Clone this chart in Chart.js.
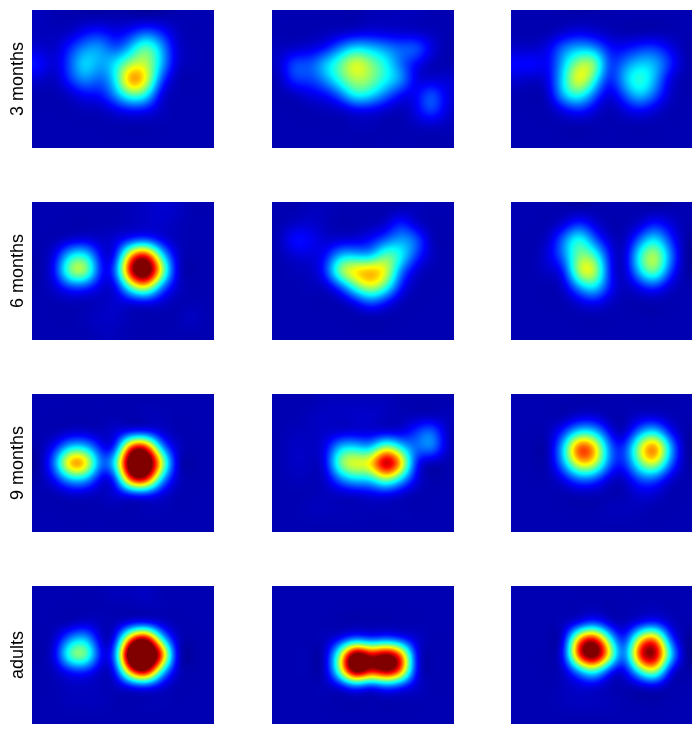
<!DOCTYPE html>
<html>
<head>
<meta charset="utf-8">
<script src="https://cdn.jsdelivr.net/npm/chart.js@4"></script>
<style>
  html, body { margin: 0; padding: 0; background: #fff; }
  #wrap { position: relative; width: 699px; height: 730px; overflow: hidden; }
  canvas { position: absolute; }
</style>
</head>
<body>
<div id="wrap"></div>
<script>
const rowLabels = ['3 months', '6 months', '9 months', 'adults'];

// density, 100 = top of the colour scale, 12 columns x 9 rows per panel
const m3a = [
  [6,5,5,5,5,5,5,5,5,5,5,5],
  [6,6,7,13,15,11,15,22,16,7,5,5],
  [8,7,16,26,28,20,32,48,30,9,6,5],
  [14,8,20,35,28,36,52,55,32,9,6,5],
  [8,6,17,27,22,36,74,62,22,6,5,5],
  [5,5,7,13,14,27,46,40,10,6,5,5],
  [5,5,5,6,6,10,14,13,7,5,5,5],
  [5,5,5,5,5,5,5,5,5,5,5,5],
  [5,5,5,5,5,5,5,5,5,5,5,5]
];
const m3b = [
  [5,5,5,5,5,5,6,6,6,6,5,5],
  [5,5,5,6,7,9,10,9,8,7,6,5],
  [6,7,9,13,25,35,32,27,22,22,10,5],
  [8,20,20,32,45,60,50,38,22,12,6,5],
  [6,18,18,27,42,54,50,38,28,10,8,8],
  [5,6,10,13,23,40,36,24,13,11,21,10],
  [5,5,5,6,7,11,11,8,6,10,20,9],
  [5,5,5,5,5,6,6,5,5,6,7,6],
  [5,5,5,5,5,5,5,5,5,5,5,5]
];
const m3c = [
  [5,5,5,5,5,5,5,5,5,5,5,5],
  [5,5,5,8,11,9,6,5,5,5,5,5],
  [7,7,11,24,30,27,14,13,17,18,11,5],
  [13,14,12,32,52,52,18,24,32,30,17,6],
  [8,7,11,36,62,42,15,30,42,30,10,5],
  [5,5,8,32,42,24,9,20,33,22,8,5],
  [5,5,5,11,16,10,5,9,13,9,5,5],
  [5,5,5,5,5,5,5,5,5,5,5,5],
  [5,5,5,5,5,5,5,5,5,5,5,5]
];
const m6a = [
  [5,5,5,5,5,5,6,7,8,7,5,5],
  [5,5,5,5,5,5,7,8,8,6,5,5],
  [5,5,8,10,7,9,16,20,11,6,5,5],
  [5,10,34,38,13,13,70,90,40,10,5,5],
  [5,13,50,55,16,22,92,115,62,11,5,5],
  [5,8,18,18,10,10,47,65,27,9,5,5],
  [5,5,6,6,6,8,10,12,9,5,5,5],
  [5,5,5,6,7,7,6,6,5,5,7,5],
  [5,5,5,5,6,6,5,5,5,5,5,5]
];
const m6b = [
  [5,5,6,6,5,5,5,5,6,6,5,5],
  [5,7,8,6,5,5,6,8,17,8,5,5],
  [6,14,12,8,9,10,14,22,28,22,6,5],
  [5,8,9,12,30,32,30,48,38,18,7,5],
  [5,6,7,16,52,65,70,60,25,9,5,5],
  [5,5,6,7,20,44,58,44,15,6,5,5],
  [5,5,5,5,6,12,22,14,6,5,5,5],
  [5,5,5,5,5,5,5,5,5,5,5,5],
  [5,5,5,5,5,5,5,5,5,5,5,5]
];
const m6c = [
  [5,5,5,5,5,5,5,5,5,5,5,5],
  [5,5,5,9,18,10,5,5,8,16,10,5],
  [5,5,8,24,42,23,9,6,22,37,18,5],
  [5,5,10,24,48,44,15,7,38,56,27,5],
  [5,5,8,14,55,58,16,7,32,50,20,5],
  [5,5,5,8,28,38,15,6,12,18,8,5],
  [5,5,5,5,9,13,7,5,5,5,5,5],
  [5,5,5,5,5,5,5,5,5,5,5,5],
  [5,5,5,5,5,5,5,5,5,5,5,5]
];
const m9a = [
  [5,5,5,5,5,5,5,5,5,5,5,5],
  [5,5,5,5,5,5,6,7,6,5,5,5],
  [5,5,8,8,6,9,13,14,9,5,5,5],
  [5,13,33,33,15,15,85,90,30,9,5,5],
  [5,25,72,70,25,40,115,120,65,10,5,5],
  [5,13,32,32,12,17,88,95,35,9,5,5],
  [5,5,8,8,6,9,14,16,10,5,5,5],
  [5,5,5,5,5,5,6,7,6,5,5,5],
  [5,5,5,5,5,5,5,5,5,5,5,5]
];
const m9b = [
  [5,5,5,6,6,6,6,6,5,5,5,5],
  [5,5,6,7,7,8,8,7,6,6,6,6],
  [5,6,6,7,8,9,9,10,10,17,24,7],
  [5,7,7,10,32,35,30,55,36,22,27,8],
  [5,7,7,10,50,62,65,100,70,15,6,5],
  [5,6,6,7,25,36,36,55,35,11,5,5],
  [5,5,5,6,7,8,10,12,8,5,5,5],
  [5,5,6,6,6,6,6,6,6,5,5,5],
  [5,5,5,5,5,5,5,5,5,5,5,5]
];
const m9c = [
  [5,5,5,5,5,5,5,5,5,5,5,5],
  [5,5,5,5,9,9,5,5,8,9,6,5],
  [5,5,6,17,36,34,13,6,25,36,14,5],
  [5,5,6,34,82,70,26,17,54,78,33,6],
  [5,5,6,29,64,60,24,16,44,60,25,6],
  [5,5,5,11,24,22,9,7,20,22,9,5],
  [5,5,5,5,6,6,5,5,9,9,5,5],
  [5,5,5,5,5,5,6,6,6,5,5,5],
  [5,5,5,5,5,5,5,5,5,5,5,5]
];
const adA = [
  [5,5,5,5,5,6,6,7,5,5,5,5],
  [5,5,5,5,5,5,6,7,6,5,5,5],
  [5,5,6,9,6,6,13,15,9,5,5,5],
  [5,7,26,33,9,13,80,105,42,9,5,5],
  [5,10,46,52,15,24,125,130,90,11,5,5],
  [5,6,14,16,8,13,80,105,42,9,5,5],
  [5,5,7,7,6,6,13,16,10,5,5,5],
  [5,5,6,6,6,5,6,7,6,5,5,5],
  [5,5,5,5,5,5,5,5,5,5,5,5]
];
const adB = [
  [5,5,5,5,5,5,5,5,5,5,5,5],
  [5,5,5,5,5,5,5,5,5,5,5,5],
  [5,5,5,5,5,6,6,6,6,5,5,5],
  [5,5,5,6,12,24,18,22,16,8,5,5],
  [5,5,6,7,52,115,92,105,80,12,6,5],
  [5,5,6,7,52,115,90,105,80,12,6,5],
  [5,5,5,6,10,22,14,22,16,8,5,5],
  [5,5,5,5,5,6,6,6,6,5,5,5],
  [5,5,5,5,5,5,5,5,5,5,5,5]
];
const adC = [
  [5,5,5,5,5,5,5,5,5,5,5,5],
  [5,5,5,5,6,7,5,5,6,7,5,5],
  [5,5,5,6,13,22,10,6,13,18,8,5],
  [5,5,6,9,72,93,45,14,60,80,22,5],
  [5,5,6,13,85,110,65,20,85,100,40,6],
  [5,5,5,7,28,45,17,10,40,60,13,5],
  [5,5,5,6,9,10,6,5,7,10,5,5],
  [5,5,5,6,7,7,6,5,5,5,5,5],
  [5,5,5,5,5,5,5,5,5,5,5,5]
];
const panels = [
  [m3a, m3b, m3c],
  [m6a, m6b, m6c],
  [m9a, m9b, m9c],
  [adA, adB, adC]
];

const colX = [32, 272, 511];
const colW = [182, 182, 181];
const rowY = [10, 202, 394, 586];
const panelH = 138;

function jet(v) {
  const c = t => Math.round(255 * Math.max(0, Math.min(1, t)));
  return [c(1.5 - Math.abs(4 * v - 3)), c(1.5 - Math.abs(4 * v - 2)), c(1.5 - Math.abs(4 * v - 1))];
}

// cubic b-spline weights, rounder blobs than catmull-rom
function bspline(a, b, c, d, t) {
  const u = 1 - t;
  return (u * u * u * a + (3 * t * t * t - 6 * t * t + 4) * b + (-3 * t * t * t + 3 * t * t + 3 * t + 1) * c + t * t * t * d) / 6;
}

// one pass of sharpening so the spline passes close to the sample values
function prefilter(grid) {
  const rows = grid.length, cols = grid[0].length;
  const at = (g, r, c) => g[Math.max(0, Math.min(rows - 1, r))][Math.max(0, Math.min(cols - 1, c))];
  const a = grid.map((vals, r) => vals.map((v, c) => v + (2 * v - at(grid, r, c - 1) - at(grid, r, c + 1)) / 6));
  return a.map((vals, r) => vals.map((v, c) => v + (2 * v - at(a, r - 1, c) - at(a, r + 1, c)) / 6));
}

function sample(grid, gx, gy) {
  const rows = grid.length, cols = grid[0].length;
  const ix = Math.floor(gx), iy = Math.floor(gy);
  const at = (r, c) => grid[Math.max(0, Math.min(rows - 1, r))][Math.max(0, Math.min(cols - 1, c))];
  const line = r => bspline(at(r, ix - 1), at(r, ix), at(r, ix + 1), at(r, ix + 2), gx - ix);
  return bspline(line(iy - 1), line(iy), line(iy + 1), line(iy + 2), gy - iy);
}

// paints the density image behind the (invisible) sample points, using the chart scales
const heatPlugin = {
  id: 'heat',
  beforeDatasetsDraw(chart) {
    const grid = prefilter(chart.options.plugins.heat.grid);
    const { left, top, width, height } = chart.chartArea;
    const w = Math.round(width), h = Math.round(height);
    const img = chart.ctx.createImageData(w, h);
    for (let py = 0; py < h; py++) {
      const gy = chart.scales.y.getValueForPixel(top + py + 0.5) - 0.5;
      for (let px = 0; px < w; px++) {
        const gx = chart.scales.x.getValueForPixel(left + px + 0.5) - 0.5;
        const [r, g, b] = jet(Math.max(0, Math.min(1, sample(grid, gx, gy) / 100)));
        const k = (py * w + px) * 4;
        img.data[k] = r; img.data[k + 1] = g; img.data[k + 2] = b; img.data[k + 3] = 255;
      }
    }
    chart.ctx.putImageData(img, left, top);
  }
};

const wrap = document.getElementById('wrap');
panels.forEach((row, r) => {
  row.forEach((grid, c) => {
    const first = c === 0;
    const canvas = document.createElement('canvas');
    const left = first ? 0 : colX[c];
    const w = first ? colX[0] + colW[0] : colW[c];
    canvas.width = w;
    canvas.height = panelH;
    canvas.style.left = left + 'px';
    canvas.style.top = rowY[r] + 'px';
    canvas.style.width = w + 'px';
    canvas.style.height = panelH + 'px';
    wrap.appendChild(canvas);

    const points = [];
    grid.forEach((vals, j) => vals.forEach((v, i) => points.push({ x: i + 0.5, y: j + 0.5, v })));

    new Chart(canvas.getContext('2d'), {
      type: 'scatter',
      data: { datasets: [{ label: rowLabels[r], data: points, pointRadius: 0 }] },
      plugins: [heatPlugin],
      options: {
        responsive: false,
        animation: false,
        layout: { padding: 0 },
        plugins: {
          legend: { display: false },
          tooltip: { enabled: false },
          heat: { grid }
        },
        scales: {
          x: { type: 'linear', display: false, min: 0, max: grid[0].length },
          y: {
            type: 'linear',
            display: first,
            reverse: true,
            min: 0,
            max: grid.length,
            grid: { display: false, drawTicks: false },
            border: { display: false },
            ticks: { display: false },
            title: {
              display: first,
              text: rowLabels[r],
              color: '#000',
              font: { family: 'Liberation Sans', size: 18 },
              padding: { top: 7, bottom: 0 }
            },
            afterFit(scale) { if (first) scale.width = colX[0]; }
          }
        }
      }
    });
  });
});
</script>
</body>
</html>
